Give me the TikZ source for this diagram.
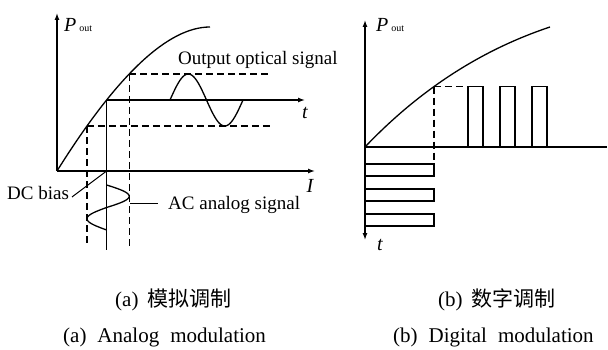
\documentclass[tikz,border=0pt]{standalone}
\usepackage{fontspec}
\setmainfont{Liberation Serif}
\newfontfamily\cjkfont{Noto Sans CJK SC}
\usetikzlibrary{arrows.meta}
\begin{document}
\begin{tikzpicture}[x=1pt,y=-1pt,
  ln/.style={line width=1.3pt},
  thin ln/.style={line width=1.0pt},
  dsh/.style={line width=1.3pt, dash pattern=on 7pt off 4pt},
  ax/.style={line width=1.3pt,-{Latex[length=7pt,width=5pt]}},
  dax/.style={line width=1.3pt,{Latex[length=7pt,width=5pt]}-{Latex[length=7pt,width=5pt]}},
  lbl/.style={font=\fontsize{19}{22}\selectfont, inner sep=0pt, anchor=base west},
  captext/.style={font=\fontsize{21}{24}\selectfont, inner sep=0pt, anchor=base west},
  var/.style={font=\fontsize{20}{22}\selectfont\itshape, inner sep=0pt},
  pout/.style={font=\fontsize{20}{22}\selectfont, inner sep=0pt, anchor=base west}]
\useasboundingbox (0,0) rectangle (608,350);

% ================= (a) analog =================
\coordinate (O1) at (57,171);
\coordinate (P1top) at (57,13);
\coordinate (I1end) at (315,171);
\coordinate (T1end) at (305,0);
\coordinate (B1) at (0,250);
\coordinate (HiEnd) at (268,0);
\coordinate (HiBot) at (0,248);
\coordinate (LoEnd) at (273,0);
\coordinate (LoBot) at (0,246);

\draw[ln] (O1) .. controls (117,75) and (168,27) .. (210,27)
  coordinate[pos=0.1708] (lo) coordinate[pos=0.288] (mid) coordinate[pos=0.4287] (hi);

\draw[ax] (O1) -- (P1top);
\draw[ax] (O1) -- (I1end);
\draw[ax] (mid) -- (mid -| T1end);
\draw[ln] (mid) -- (mid |- B1);
\draw[dsh] (hi) -- (hi -| HiEnd);
\draw[dsh] (hi) -- (hi |- HiBot);
\draw[dsh] (lo) -- (lo -| LoEnd);
\draw[dsh] (lo) -- (lo |- LoBot);

% output optical signal
\coordinate (S0) at (170,100);
\begin{scope}[shift={(S0)}]
  \draw[ln] plot[domain=0:360, samples=61, smooth] ({\x/360*73},{-26*sin(\x)});
\end{scope}

% AC analog signal (vertical)
\coordinate (A0) at (106.6,185);
\begin{scope}[shift={(A0)}]
  \draw[ln] plot[domain=0:180, samples=31, smooth] ({22.6*sin(\x)},{\x/360*45});
  \draw[ln] plot[domain=180:360, samples=31, smooth] ({19.6*sin(\x)},{\x/360*45});
\end{scope}

% labels (a)
\node[pout] (p1) at (64,32) {\textit{P}\hspace{3pt}{\fontsize{10}{10}\selectfont out}};
\node[var] (t1) at (305,113) {t};
\node[var] (i1) at (310,186) {I};
\node[lbl] (oos) at (178,64.5) {Output optical signal};
\node[lbl] (dcb) at (7,200) {DC bias};
\node[lbl] (acs) at (168,209) {AC analog signal};
\coordinate (dcstart) at (72,197);
\draw[thin ln] (dcstart) -- (mid |- O1);
\coordinate (acstart) at (130,203);
\coordinate (acend) at (158,203);
\draw[thin ln] (acstart) -- (acend);

% ================= (b) digital =================
\coordinate (O2) at (365,147);
\coordinate (P2top) at (365,20);
\coordinate (P2bot) at (365,240);
\coordinate (H2end) at (607,147);
\coordinate (D2end) at (468,0);
\coordinate (D2bot) at (0,164);

\draw[ln] (O2) .. controls (418.3,91) and (480,50.3) .. (550,27)
  coordinate[pos=0.405] (k);
\draw[dax] (P2bot) -- (P2top);
\draw[ln] (O2) -- (H2end);
\draw[dsh] (k) -- (k -| D2end);
\draw[dsh] (k) -- (k |- D2bot);

% pulses
\draw[ln] (468,147) -- (468,86.35) -- (483,86.35) -- (483,147);
\draw[ln] (500,147) -- (500,86.35) -- (515,86.35) -- (515,147);
\draw[ln] (532,147) -- (532,86.35) -- (547,86.35) -- (547,147);

% drive pulses
\draw[ln] (365,164) rectangle (433.9,176);
\draw[ln] (365,189) rectangle (433.9,201);
\draw[ln] (365,214) rectangle (433.9,226);

\node[pout] (p2) at (376,32) {\textit{P}\hspace{3pt}{\fontsize{10}{10}\selectfont out}};
\node[var] (t2) at (380,245) {t};

% ================= captions =================
\node[captext] (ca1) at (115,306) {(a)\hspace{9pt}{\cjkfont 模拟调制}};
\node[captext] (cb1) at (438,306) {(b)\hspace{9pt}{\cjkfont 数字调制}};
\node[captext] (ca2) at (63,342) {(a)\hspace{11pt}Analog\hspace{11pt}modulation};
\node[captext] (cb2) at (393,342) {(b)\hspace{11pt}Digital\hspace{11pt}modulation};
\end{tikzpicture}
\end{document}
